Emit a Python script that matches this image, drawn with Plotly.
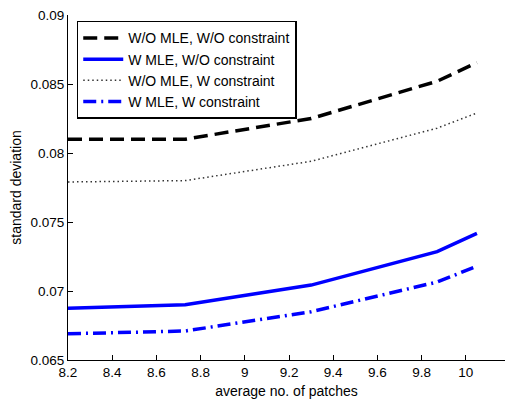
import plotly.graph_objects as go

x_patches = [8.2, 8.73, 9.3, 9.87, 10.05]
wo_mle_wo_con = [0.0810, 0.0810, 0.0825, 0.0852, 0.08655]
w_mle_wo_con = [0.06875, 0.0690, 0.07043, 0.07285, 0.07418]
wo_mle_w_con = [0.0779, 0.0780, 0.0794, 0.0818, 0.0829]
w_mle_w_con = [0.0669, 0.0671, 0.0685, 0.07065, 0.07180]

names = ["W/O MLE, W/O constraint", "W MLE, W/O constraint",
         "W/O MLE, W constraint", "W MLE, W constraint"]

y_ticks = [0.065, 0.07, 0.075, 0.08, 0.085, 0.09]
y_tick_text = ["0.065", "0.07", "0.075", "0.08", "0.085", "0.09"]
x_ticks = [8.2, 8.4, 8.6, 8.8, 9, 9.2, 9.4, 9.6, 9.8, 10]
x_tick_text = ["8.2", "8.4", "8.6", "8.8", "9", "9.2", "9.4", "9.6", "9.8", "10"]

fig = go.Figure()
fig.add_trace(go.Scatter(x=x_patches, y=wo_mle_wo_con, name=names[0], mode="lines",
                         line=dict(color="black", width=3.5, dash="14px,7px")))
fig.add_trace(go.Scatter(x=x_patches, y=w_mle_wo_con, name=names[1], mode="lines",
                         line=dict(color="#0000FF", width=3.5)))
fig.add_trace(go.Scatter(x=x_patches, y=wo_mle_w_con, name=names[2], mode="lines",
                         line=dict(color="#333333", width=1.5, dash="1.5px,3px")))
fig.add_trace(go.Scatter(x=x_patches, y=w_mle_w_con, name=names[3], mode="lines",
                         line=dict(color="#0000FF", width=3.5, dash="13px,5px,2px,5px")))

axis_common = dict(showline=True, linecolor="black", linewidth=1, ticks="inside",
                   ticklen=5, tickcolor="black", showgrid=False, zeroline=False,
                   mirror=False, tickfont=dict(size=13.5, color="black"))

fig.update_layout(
    width=505, height=400,
    margin=dict(l=68, r=0, t=15, b=40),
    paper_bgcolor="white", plot_bgcolor="white",
    font=dict(family="Liberation Sans, Arial, sans-serif", size=14, color="black"),
    showlegend=True,
    legend=dict(x=0.02, y=0.983, xanchor="left", yanchor="top",
                bgcolor="white", bordercolor="black", borderwidth=1.5,
                font=dict(size=14), tracegroupgap=0, itemwidth=40),
    xaxis=dict(range=[8.2, 10.177], tickvals=x_ticks, ticktext=x_tick_text,
               title=dict(text="average no. of patches", standoff=6, font=dict(size=14)),
               automargin=False, **axis_common),
    yaxis=dict(range=[0.065, 0.09], tickvals=y_ticks, ticktext=y_tick_text,
               title=dict(text="standard deviation", standoff=5, font=dict(size=14)),
               automargin=False, **axis_common),
)

fig.write_html("out.html")
